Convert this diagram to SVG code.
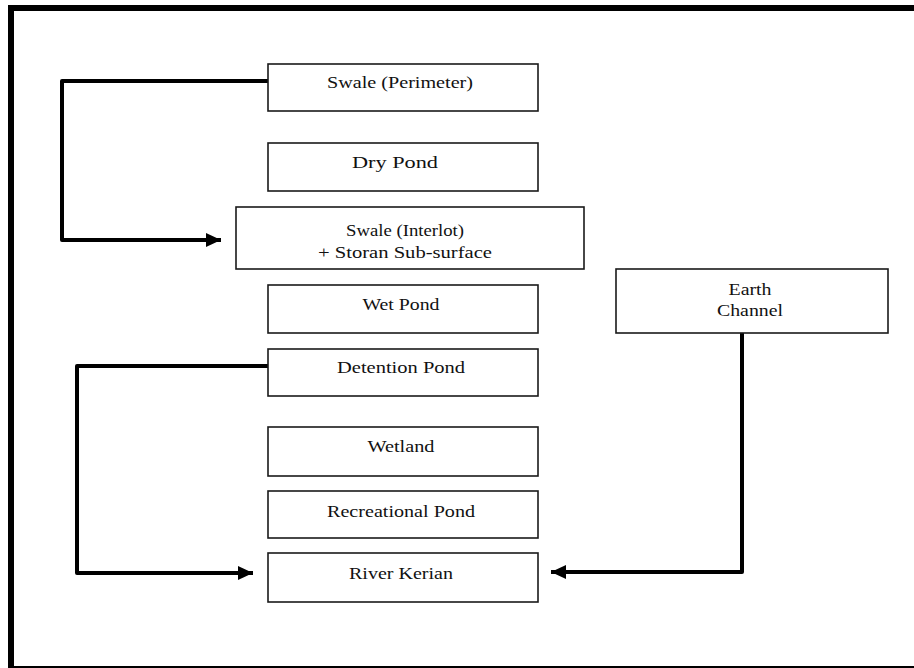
<svg xmlns="http://www.w3.org/2000/svg" width="914" height="668" viewBox="0 0 914 668">
<style>
.box{fill:#fff;stroke:#1a1a1a;stroke-width:1.6}
.t{font-family:"Liberation Serif","Times New Roman",serif;font-size:16px;fill:#111;text-anchor:middle}
.c{fill:none;stroke:#000;stroke-width:4;stroke-linejoin:round}
</style>
<defs>
<marker id="ah" markerUnits="userSpaceOnUse" viewBox="0 0 15 14" refX="15" refY="7" markerWidth="15" markerHeight="14" orient="auto">
<path d="M0,0 L15,7 L0,14 z" fill="#000"/>
</marker>
</defs>
<rect x="0" y="0" width="914" height="668" fill="#fff"/>
<rect x="11" y="8" width="920" height="661" fill="none" stroke="#000" stroke-width="6"/>
<g id="connectors">
<path class="c" d="M268,81 H62 V240 H221" marker-end="url(#ah)"/>
<path class="c" d="M268,366 H77 V573 H253" marker-end="url(#ah)"/>
<path class="c" d="M742,333 V572 H551" marker-end="url(#ah)"/>
</g>
<g id="swale-perimeter">
<rect class="box" x="268" y="64" width="270" height="47"/>
<text class="t" x="400" y="88" textLength="146" lengthAdjust="spacingAndGlyphs">Swale (Perimeter)</text>
</g>
<g id="dry-pond">
<rect class="box" x="268" y="143" width="270" height="48"/>
<text class="t" x="395" y="168" textLength="86" lengthAdjust="spacingAndGlyphs">Dry Pond</text>
</g>
<g id="swale-interlot">
<rect class="box" x="236" y="207" width="348" height="62"/>
<text class="t" x="405" y="236" textLength="118" lengthAdjust="spacingAndGlyphs">Swale (Interlot)</text>
<text class="t" x="405" y="258" textLength="174" lengthAdjust="spacingAndGlyphs">+ Storan Sub-surface</text>
</g>
<g id="wet-pond">
<rect class="box" x="268" y="285" width="270" height="48"/>
<text class="t" x="401" y="310" textLength="77" lengthAdjust="spacingAndGlyphs">Wet Pond</text>
</g>
<g id="detention-pond">
<rect class="box" x="268" y="349" width="270" height="47"/>
<text class="t" x="401" y="373" textLength="128" lengthAdjust="spacingAndGlyphs">Detention Pond</text>
</g>
<g id="wetland">
<rect class="box" x="268" y="427" width="270" height="49"/>
<text class="t" x="401" y="452" textLength="67" lengthAdjust="spacingAndGlyphs">Wetland</text>
</g>
<g id="recreational-pond">
<rect class="box" x="268" y="491" width="270" height="47"/>
<text class="t" x="401" y="517" textLength="148" lengthAdjust="spacingAndGlyphs">Recreational Pond</text>
</g>
<g id="river-kerian">
<rect class="box" x="268" y="553" width="270" height="49"/>
<text class="t" x="401" y="579" textLength="104" lengthAdjust="spacingAndGlyphs">River Kerian</text>
</g>
<g id="earth-channel">
<rect class="box" x="616" y="269" width="272" height="64"/>
<text class="t" x="750" y="295" textLength="43" lengthAdjust="spacingAndGlyphs">Earth</text>
<text class="t" x="750" y="316" textLength="66" lengthAdjust="spacingAndGlyphs">Channel</text>
</g>
</svg>
